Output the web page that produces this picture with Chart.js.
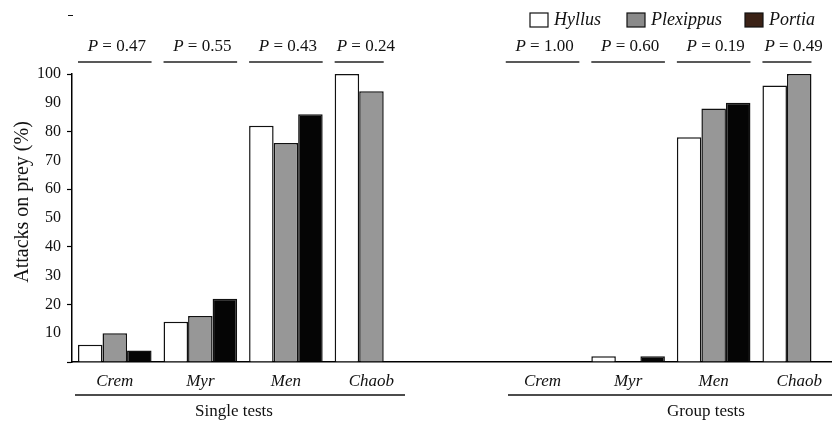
<!DOCTYPE html>
<html>
<head>
<meta charset="utf-8">
<script src="https://cdn.jsdelivr.net/npm/chart.js@4.4.0/dist/chart.umd.min.js"></script>
<style>
  html, body { margin: 0; padding: 0; background: #fff; overflow: hidden; }
  #wrap { width: 832px; height: 423px; overflow: hidden; }
</style>
</head>
<body>
<div id="wrap"><canvas id="barchart" width="846" height="423"></canvas></div>
<script>
// prey categories and the two test types
var categories = ['Crem', 'Myr', 'Men', 'Chaob'];
var testTypes = ['Single tests', 'Group tests'];
var species = ['Hyllus', 'Plexippus', 'Portia'];

// attacks on prey (%)
var hyllusSingle = [6, 14, 82, 100];
var plexippusSingle = [10, 16, 76, 94];
var portiaSingle = [4, 22, 86, null];
var hyllusGroup = [0, 2, 78, 96];
var plexippusGroup = [0, 0, 88, 100];
var portiaGroup = [0, 2, 90, null];

// P values above each prey
var pSingle = ['0.47', '0.55', '0.43', '0.24'];
var pGroup = ['1.00', '0.60', '0.19', '0.49'];

var serif = "'Liberation Serif', 'Times New Roman', serif";

// one empty slot between single and group tests
var labels = categories.concat([''], categories);
function join(a, b) { return a.concat([null], b); }
var pValues = pSingle.concat([null], pGroup);

var fills = ['#ffffff', '#979797', '#050505'];
var swatches = ['#ffffff', '#8a8a8a', '#3b2216'];

var extras = {
  id: 'extras',
  afterDraw: function(chart) {
    var ctx = chart.ctx;
    var x = chart.scales.x;
    var m0 = chart.getDatasetMeta(0), m1 = chart.getDatasetMeta(1), m2 = chart.getDatasetMeta(2);
    ctx.save();

    // P values and their lines
    for (var i = 0; i < labels.length; i++) {
      if (pValues[i] === null) continue;
      var b0 = m0.data[i];
      var left = b0.x - b0.width / 2;
      var last = chart.data.datasets[2].data[i] === null ? m1.data[i] : m2.data[i];
      var right = last.x + last.width / 2;
      ctx.strokeStyle = '#222';
      ctx.lineWidth = 1.5;
      ctx.beginPath();
      ctx.moveTo(left, 62);
      ctx.lineTo(right, 62);
      ctx.stroke();

      ctx.font = 'italic 17px ' + serif;
      var wP = ctx.measureText('P').width;
      ctx.font = '17px ' + serif;
      var rest = ' = ' + pValues[i];
      var wR = ctx.measureText(rest).width;
      var tx = Math.max(left + 2, (left + right) / 2 - (wP + wR) / 2 + 2);
      ctx.fillStyle = '#111';
      ctx.textBaseline = 'middle';
      ctx.textAlign = 'left';
      ctx.font = 'italic 17px ' + serif;
      ctx.fillText('P', tx, 47);
      ctx.font = '17px ' + serif;
      ctx.fillText(rest, tx + wP, 47);
    }

    // legend
    var lx = [530, 627, 745];
    ctx.font = 'italic 18px ' + serif;
    ctx.textBaseline = 'middle';
    for (var s = 0; s < species.length; s++) {
      ctx.fillStyle = swatches[s];
      ctx.fillRect(lx[s], 13, 18, 14);
      ctx.strokeStyle = '#111';
      ctx.lineWidth = 1.2;
      ctx.strokeRect(lx[s], 13, 18, 14);
      ctx.fillStyle = '#111';
      ctx.fillText(species[s], lx[s] + 24, 20);
    }

    // test type brackets
    var area = chart.chartArea;
    var spans = [[75, 405], [508, 846]];
    var centers = [234, 706];
    ctx.strokeStyle = '#111';
    ctx.lineWidth = 1.5;
    ctx.font = '17px ' + serif;
    ctx.textAlign = 'center';
    for (var g = 0; g < testTypes.length; g++) {
      ctx.beginPath();
      ctx.moveTo(spans[g][0], 395);
      ctx.lineTo(spans[g][1], 395);
      ctx.stroke();
      ctx.fillText(testTypes[g], centers[g], 412);
    }

    // y axis title
    ctx.save();
    ctx.translate(23, 202);
    ctx.rotate(-Math.PI / 2);
    ctx.font = '20px ' + serif;
    ctx.fillText('Attacks on prey (%)', 0, 0);
    ctx.restore();

    // stray mark top left
    ctx.lineWidth = 1;
    ctx.beginPath();
    ctx.moveTo(68, 15.5);
    ctx.lineTo(73, 15.5);
    ctx.stroke();

    ctx.restore();
  }
};

var chartdata = {
  labels: labels,
  datasets: [
    { label: species[0], data: join(hyllusSingle, hyllusGroup), backgroundColor: fills[0] },
    { label: species[1], data: join(plexippusSingle, plexippusGroup), backgroundColor: fills[1] },
    { label: species[2], data: join(portiaSingle, portiaGroup), backgroundColor: fills[2] }
  ]
};
chartdata.datasets.forEach(function(d) {
  d.borderColor = '#111';
  d.borderWidth = 1.5;
  d.categoryPercentage = 0.86;
  d.barPercentage = 1.0;
});

var barGraph = new Chart(document.getElementById('barchart'), {
  type: 'bar',
  data: chartdata,
  plugins: [extras],
  options: {
    responsive: false,
    animation: false,
    layout: { padding: { top: 74, right: 4, left: 0, bottom: 0 } },
    plugins: { legend: { display: false }, tooltip: { enabled: false } },
    scales: {
      x: {
        afterFit: function(scale) { scale.height = 61; },
        grid: { display: false, drawTicks: false },
        border: { color: '#000', width: 1.5 },
        ticks: {
          padding: 9,
          color: '#111',
          font: { family: serif, size: 17, style: 'italic' },
          maxRotation: 0,
          autoSkip: false
        }
      },
      y: {
        min: 0,
        max: 100,
        afterFit: function(scale) { scale.width = 72; },
        border: { color: '#000', width: 1.5 },
        grid: {
          drawOnChartArea: false,
          tickLength: 5,
          tickWidth: 1.2,
          tickColor: function(c) { return c.tick && c.tick.value % 20 === 0 ? '#000' : 'rgba(0,0,0,0)'; }
        },
        ticks: {
          stepSize: 10,
          padding: 6,
          color: '#111',
          font: { family: serif, size: 16 },
          callback: function(v) { return v === 0 ? '' : v; }
        }
      }
    }
  }
});
</script>
</body>
</html>
